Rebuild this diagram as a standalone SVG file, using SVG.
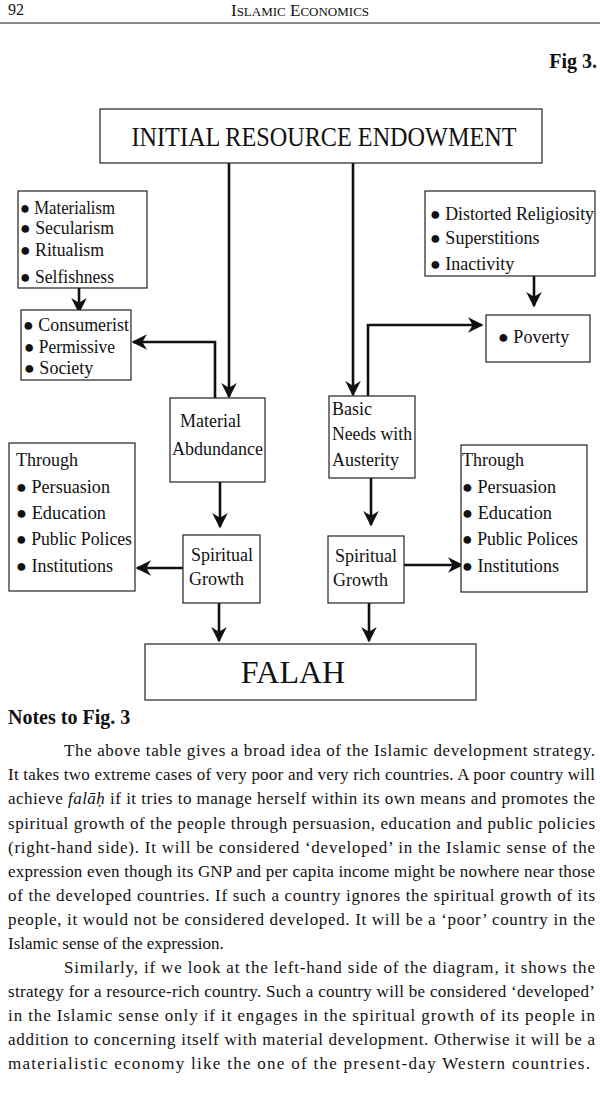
<svg xmlns="http://www.w3.org/2000/svg" width="600" height="1100" viewBox="0 0 600 1100">
<style>
text{font-family:"Liberation Serif","Times New Roman",serif;fill:#111}
.box{fill:#fff;stroke:#222;stroke-width:1.2}
.c{fill:none;stroke:#111;stroke-width:2.6}
.d{font-size:18px}
.p{font-size:17px}
</style>
<defs>
<marker id="a" viewBox="0 0 10 10" refX="9" refY="5" markerWidth="6" markerHeight="6" orient="auto" markerUnits="strokeWidth"><path d="M0,0 L10,5 L0,10 L3,5 Z" fill="#111"/></marker>
</defs>
<rect width="600" height="1100" fill="#fff"/>
<text x="8" y="15" font-size="16">92</text>
<text x="300" y="16" font-size="17" text-anchor="middle">I<tspan font-size="13">SLAMIC</tspan> E<tspan font-size="13">CONOMICS</tspan></text>
<line x1="0" y1="23" x2="600" y2="23" stroke="#111" stroke-width="1"/>
<text x="597" y="68" font-size="20" font-weight="bold" text-anchor="end">Fig 3.</text>

<g id="connectors">
<path class="c" d="M229,163 V397" marker-end="url(#a)"/>
<path class="c" d="M353,163 V395" marker-end="url(#a)"/>
<path class="c" d="M215,398 V342 H133" marker-end="url(#a)"/>
<path class="c" d="M368,396 V325 H482" marker-end="url(#a)"/>
<path class="c" d="M79,288 V312" marker-end="url(#a)"/>
<path class="c" d="M534,276 V306" marker-end="url(#a)"/>
<path class="c" d="M220,482 V527" marker-end="url(#a)"/>
<path class="c" d="M371,478 V525" marker-end="url(#a)"/>
<path class="c" d="M183,568 H137" marker-end="url(#a)"/>
<path class="c" d="M404,565 H462" marker-end="url(#a)"/>
<path class="c" d="M219,603 V641" marker-end="url(#a)"/>
<path class="c" d="M369,603 V641" marker-end="url(#a)"/>
</g>

<g id="top"><rect class="box" x="100" y="109" width="442" height="54"/>
<text x="324" y="146" font-size="28" text-anchor="middle" textLength="385" lengthAdjust="spacingAndGlyphs">INITIAL RESOURCE ENDOWMENT</text></g>

<g id="leftlist"><rect class="box" x="18" y="191" width="129" height="97"/>
<text class="d" x="20" y="214" textLength="95" lengthAdjust="spacingAndGlyphs">● Materialism</text>
<text class="d" x="20" y="234" textLength="94" lengthAdjust="spacingAndGlyphs">● Secularism</text>
<text class="d" x="20" y="256" textLength="84" lengthAdjust="spacingAndGlyphs">● Ritualism</text>
<text class="d" x="20" y="283" textLength="94" lengthAdjust="spacingAndGlyphs">● Selfishness</text></g>

<g id="consumerist"><rect class="box" x="21" y="310" width="110" height="70"/>
<text class="d" x="23" y="331" textLength="106" lengthAdjust="spacingAndGlyphs">● Consumerist</text>
<text class="d" x="24" y="353" textLength="91" lengthAdjust="spacingAndGlyphs">● Permissive</text>
<text class="d" x="24" y="374">● Society</text></g>

<g id="rightlist"><rect class="box" x="425" y="191" width="170" height="85"/>
<text class="d" x="430" y="220" textLength="164" lengthAdjust="spacingAndGlyphs">● Distorted Religiosity</text>
<text class="d" x="430" y="244">● Superstitions</text>
<text class="d" x="430" y="270">● Inactivity</text></g>

<g id="poverty"><rect class="box" x="486" y="315" width="104" height="47"/>
<text class="d" x="498" y="343">● Poverty</text></g>

<g id="material"><rect class="box" x="170" y="398" width="95" height="84"/>
<text class="d" x="180" y="427">Material</text>
<text class="d" x="172" y="455" textLength="91" lengthAdjust="spacingAndGlyphs">Abdundance</text></g>

<g id="basic"><rect class="box" x="329" y="396" width="86" height="82"/>
<text class="d" x="332" y="415">Basic</text>
<text class="d" x="332" y="440" textLength="80" lengthAdjust="spacingAndGlyphs">Needs with</text>
<text class="d" x="332" y="466">Austerity</text></g>

<g id="throughL"><rect class="box" x="9" y="443" width="126" height="148"/>
<text class="d" x="16" y="466">Through</text>
<text class="d" x="16" y="493" textLength="94" lengthAdjust="spacingAndGlyphs">● Persuasion</text>
<text class="d" x="16" y="519" textLength="90" lengthAdjust="spacingAndGlyphs">● Education</text>
<text class="d" x="16" y="545" textLength="116" lengthAdjust="spacingAndGlyphs">● Public Polices</text>
<text class="d" x="16" y="572" textLength="97" lengthAdjust="spacingAndGlyphs">● Institutions</text></g>

<g id="throughR"><rect class="box" x="461" y="445" width="126" height="147"/>
<text class="d" x="462" y="466">Through</text>
<text class="d" x="462" y="493" textLength="94" lengthAdjust="spacingAndGlyphs">● Persuasion</text>
<text class="d" x="462" y="519" textLength="90" lengthAdjust="spacingAndGlyphs">● Education</text>
<text class="d" x="462" y="545" textLength="116" lengthAdjust="spacingAndGlyphs">● Public Polices</text>
<text class="d" x="462" y="572" textLength="97" lengthAdjust="spacingAndGlyphs">● Institutions</text></g>

<g id="sgL"><rect class="box" x="183" y="535" width="77" height="68"/>
<text class="d" x="191" y="561">Spiritual</text>
<text class="d" x="189" y="585">Growth</text></g>

<g id="sgR"><rect class="box" x="328" y="536" width="76" height="67"/>
<text class="d" x="335" y="562">Spiritual</text>
<text class="d" x="333" y="586">Growth</text></g>

<g id="falah"><rect class="box" x="145" y="644" width="331" height="56"/>
<text x="293" y="683" font-size="32" text-anchor="middle">FALAH</text></g>

<text x="8" y="724" font-size="20" font-weight="bold">Notes to Fig. 3</text>
<text class="p" x="64" y="756" textLength="531" lengthAdjust="spacing">The above table gives a broad idea of the Islamic development strategy.</text>
<text class="p" x="8" y="780" textLength="587" lengthAdjust="spacing">It takes two extreme cases of very poor and very rich countries. A poor country will</text>
<text class="p" x="8" y="804" textLength="587" lengthAdjust="spacing">achieve <tspan font-style="italic">falāḥ</tspan> if it tries to manage herself within its own means and promotes the</text>
<text class="p" x="8" y="829" textLength="587" lengthAdjust="spacing">spiritual growth of the people through persuasion, education and public policies</text>
<text class="p" x="8" y="853" textLength="587" lengthAdjust="spacing">(right-hand side). It will be considered ‘developed’ in the Islamic sense of the</text>
<text class="p" x="8" y="877" textLength="587" lengthAdjust="spacing">expression even though its GNP and per capita income might be nowhere near those</text>
<text class="p" x="8" y="901" textLength="587" lengthAdjust="spacing">of the developed countries. If such a country ignores the spiritual growth of its</text>
<text class="p" x="8" y="925" textLength="587" lengthAdjust="spacing">people, it would not be considered developed. It will be a ‘poor’ country in the</text>
<text class="p" x="8" y="949">Islamic sense of the expression.</text>
<text class="p" x="64" y="973" textLength="531" lengthAdjust="spacing">Similarly, if we look at the left-hand side of the diagram, it shows the</text>
<text class="p" x="8" y="997" textLength="587" lengthAdjust="spacing">strategy for a resource-rich country. Such a country will be considered ‘developed’</text>
<text class="p" x="8" y="1021" textLength="587" lengthAdjust="spacing">in the Islamic sense only if it engages in the spiritual growth of its people in</text>
<text class="p" x="8" y="1045" textLength="587" lengthAdjust="spacing">addition to concerning itself with material development. Otherwise it will be a</text>
<text class="p" x="8" y="1069" textLength="582" lengthAdjust="spacing">materialistic economy like the one of the present-day Western countries.</text>
</svg>
